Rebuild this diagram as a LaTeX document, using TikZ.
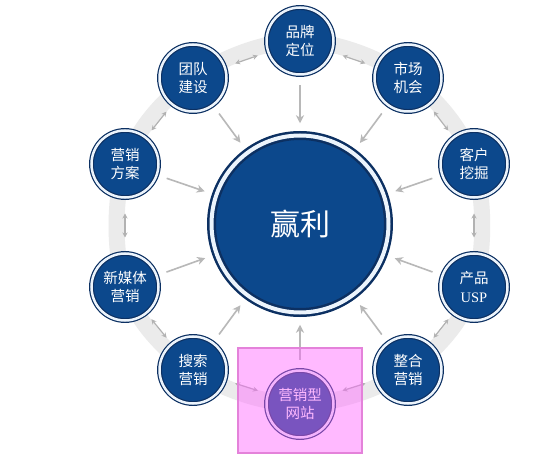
\documentclass[tikz,border=0pt]{standalone}
\usepackage{fontspec}
\setmainfont{Noto Sans CJK SC}
\newfontfamily\latinserif{Liberation Serif}
\usetikzlibrary{arrows.meta, calc, backgrounds}

\definecolor{navy}{RGB}{12,48,98}
\definecolor{nodeblue}{RGB}{12,72,140}
\definecolor{gapwhite}{RGB}{236,244,252}
\definecolor{boxpink}{RGB}{228,130,218}
\definecolor{pinkfill}{RGB}{255,100,255}

\begin{document}
\begin{tikzpicture}[x=1pt, y=-1pt,
    hub/.style={circle, draw=navy, double=gapwhite, double distance=4pt, line width=2.5pt, fill=nodeblue, minimum size=177pt, inner sep=0pt, text=white, font=\fontsize{30}{34}\selectfont},
    item/.style={circle, draw=navy, double=gapwhite, double distance=2.5pt, line width=1.2pt, fill=nodeblue, minimum size=67pt, inner sep=0pt, align=center, text=white, font=\fontsize{14.5}{18.5}\selectfont},
    band/.style={line width=16pt, color=black!8},
    arr/.style={-{Stealth[length=8pt, width=8pt, inset=2.5pt]}, line width=1.6pt, color=black!28, shorten <=10pt, shorten >=11pt},
    darr/.style={{Stealth[length=5pt, width=5pt]}-{Stealth[length=5pt, width=5pt]}, line width=1.2pt, color=black!30},
    hilite/.style={draw=boxpink, line width=1.5pt, fill=pinkfill, fill opacity=0.45},
]
\useasboundingbox (0,0) rectangle (549,465);

% === Centre ===
\node[hub] (hub) at (300,224) {赢利};

% === Ring of items ===
\node[item] (brand)  at (300,41)  {品牌\\定位};
\node[item] (market) at (408,78)  {市场\\机会};
\node[item] (client) at (474,164) {客户\\挖掘};
\node[item] (usp)    at (474,287) {产品\\{\latinserif USP}};
\node[item] (integ)  at (408,370) {整合\\营销};
\node[item] (site)   at (300,404) {营销型\\网站};
\node[item] (search) at (193,370) {搜索\\营销};
\node[item] (media)  at (125,287) {新媒体\\营销};
\node[item] (plan)   at (125,164) {营销\\方案};
\node[item] (team)   at (193,78)  {团队\\建设};

% grey band behind the ring
\begin{scope}[on background layer]
  \fill[white] (0,0) rectangle (549,465);
  \draw[band] plot[smooth cycle, tension=0.6] coordinates {(brand.center) (market.center) (client.center) (usp.center) (integ.center) (site.center) (search.center) (media.center) (plan.center) (team.center)};
\end{scope}

% arrows along the ring
\foreach \a/\b in {brand/market, market/client, client/usp, usp/integ, integ/site, site/search, search/media, media/plan, plan/team, team/brand}
  \draw[darr] ($(\a)!0.5!(\b)!12pt!(\a)$) -- ($(\a)!0.5!(\b)!12pt!(\b)$);

% arrows into the centre
\foreach \n in {brand, market, client, usp, integ, site, search, media, plan, team}
  \draw[arr] (\n) -- (hub);

% === Highlight ===
\node[hilite, minimum width=124pt, minimum height=105pt] (site-box) at (300,400.5) {};

\end{tikzpicture}
\end{document}
